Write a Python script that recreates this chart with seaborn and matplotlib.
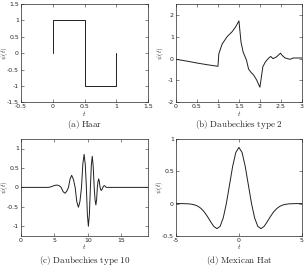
import numpy as np
import pandas as pd
import seaborn as sns
import matplotlib
matplotlib.use('Agg')
import matplotlib.pyplot as plt
from matplotlib.ticker import FormatStrFormatter

# (a) Haar
haar_t = [0, 0, 0.5, 0.5, 1, 1]
haar_psi = [0, 1, 1, -1, -1, 0]

# (b) Daubechies type 2
db2_t = [0, 0.25, 0.5, 0.75, 1.0, 1.02, 1.1, 1.22, 1.34, 1.42, 1.5, 1.55, 1.6, 1.68,
         1.73, 1.79, 1.85, 1.92, 2.0, 2.03, 2.07, 2.13, 2.21, 2.26, 2.31, 2.39, 2.49,
         2.53, 2.6, 2.72, 2.79, 3.0]
db2_psi = [-0.03, -0.11, -0.2, -0.28, -0.35, 0.22, 0.67, 1.01, 1.24, 1.45, 1.73, 0.75,
           0.3, -0.07, -0.48, -0.63, -0.75, -0.97, -1.31, -0.9, -0.37, -0.15, 0.03, 0.1,
           0.0, 0.07, 0.25, 0.15, 0.03, -0.03, 0.03, 0.03]

# (c) Daubechies type 10
db10_t = [0, 3.5, 4.1, 4.6, 5.0, 5.4, 5.75, 6.0, 6.3, 6.57, 6.85, 7.1, 7.35, 7.58, 7.85,
          8.1, 8.35, 8.59, 8.82, 9.05, 9.25, 9.44, 9.62, 9.78, 9.93, 10.08, 10.23, 10.38,
          10.52, 10.66, 10.8, 10.95, 11.08, 11.2, 11.31, 11.42, 11.52, 11.62, 11.72,
          11.83, 11.93, 12.02, 12.13, 12.25, 12.35, 12.45, 12.6, 12.75, 13.2, 19]
db10_psi = [0, 0, 0, 0.02, 0.05, 0.06, 0.04, 0.0, -0.11, -0.15, -0.1, 0.0, 0.22, 0.31,
            0.2, 0.0, -0.37, -0.51, -0.36, 0.0, 0.6, 0.85, 0.58, 0.0, -0.7, -1.0, -0.7,
            0.0, 0.57, 0.8, 0.55, 0.0, -0.32, -0.45, -0.32, 0.0, 0.15, 0.22, 0.15, 0.0,
            -0.06, -0.08, -0.05, 0.0, 0.03, 0.045, 0.03, 0.0, 0.0, 0.0]

# (d) Mexican hat
mex_t = [-5, -4.5, -4, -3.75, -3.5, -3.25, -3, -2.75, -2.5, -2.25, -2, -1.75, -1.5,
         -1.25, -1, -0.75, -0.5, -0.25, 0, 0.25, 0.5, 0.75, 1, 1.25, 1.5, 1.75, 2,
         2.25, 2.5, 2.75, 3, 3.25, 3.5, 3.75, 4, 4.5, 5]
mex_psi = [0, -0.0003, -0.004, -0.01, -0.021, -0.042, -0.077, -0.13, -0.2, -0.28,
           -0.352, -0.387, -0.352, -0.223, 0, 0.286, 0.574, 0.788, 0.867, 0.788, 0.574,
           0.286, 0, -0.223, -0.352, -0.387, -0.352, -0.28, -0.2, -0.13, -0.077, -0.042,
           -0.021, -0.01, -0.004, -0.0003, 0]

sns.set_style('ticks')
plt.rcParams['mathtext.fontset'] = 'cm'
plt.rcParams['font.family'] = ['DejaVu Sans']
plt.rcParams['axes.linewidth'] = 0.5

fig = plt.figure(figsize=(3.07, 2.70), dpi=100)

panels = [
    (haar_t, haar_psi, [0.0684, 0.6210, 0.4137, 0.364], (-0.5, 1.5), (-1.5, 1.5),
     [-0.5, 0, 0.5, 1, 1.5], [-1.5, -1, -0.5, 0, 0.5, 1, 1.5],
     r'$\mathrm{(a)\ Haar}$', 0.540, -0.085),
    (db2_t, db2_psi, [0.5733, 0.6210, 0.410, 0.364], (0, 3), (-2, 2.5),
     [0, 0.5, 1, 1.5, 2, 2.5, 3], [-2, -1, 0, 1, 2],
     r'$\mathrm{(b)\ Daubechies\ type\ 2}$', 0.540, -0.08),
    (db10_t, db10_psi, [0.0684, 0.1260, 0.4137, 0.360], (0, 19), (-1.25, 1.25),
     [0, 5, 10, 15], [-1, -0.5, 0, 0.5, 1],
     r'$\mathrm{(c)\ Daubechies\ type\ 10}$', 0.035, -0.085),
    (mex_t, mex_psi, [0.5733, 0.1260, 0.410, 0.360], (-5, 5), (-0.5, 1),
     [-5, 0, 5], [-0.5, 0, 0.5, 1],
     r'$\mathrm{(d)\ Mexican\ Hat}$', 0.035, -0.09),
]

for t, psi, pos, xl, yl, xt, yt, cap, cy, ylx in panels:
    ax = fig.add_axes(pos)
    df = pd.DataFrame({'t': t, 'psi': psi})
    sns.lineplot(data=df, x='t', y='psi', sort=False, estimator=None, ax=ax,
                 color='#202020', linewidth=0.7)
    ax.set_xlim(xl)
    ax.set_ylim(yl)
    ax.set_xticks(xt)
    ax.set_yticks(yt)
    ax.xaxis.set_major_formatter(FormatStrFormatter('%g'))
    ax.yaxis.set_major_formatter(FormatStrFormatter('%g'))
    ax.tick_params(direction='in', top=True, right=True, length=2, width=0.4,
                   labelsize=4.5, pad=1.5)
    ax.set_xlabel(r'$t$', fontsize=5, labelpad=-0.5)
    ax.set_ylabel(r'$\psi(t)$', fontsize=5)
    ax.yaxis.set_label_coords(ylx, 0.5)
    for s in ax.spines.values():
        s.set_linewidth(0.5)
    fig.text(pos[0] + pos[2] / 2, cy, cap, ha='center', va='center', fontsize=6.5)

fig.savefig('out.png', dpi=100)
